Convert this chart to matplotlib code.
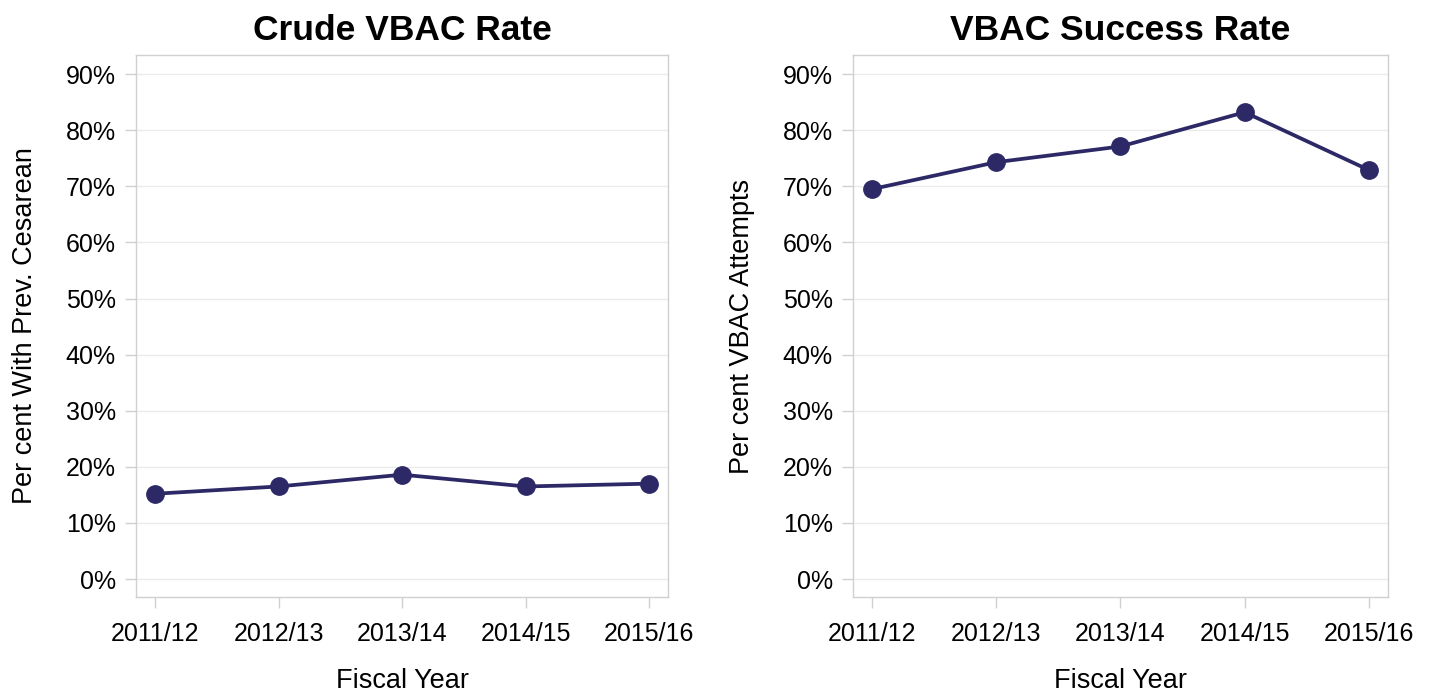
import matplotlib
matplotlib.use("Agg")
import matplotlib.pyplot as plt
from matplotlib.ticker import PercentFormatter

plt.rcParams["font.family"] = ["Liberation Sans", "DejaVu Sans"]

years = ["2011/12", "2012/13", "2013/14", "2014/15", "2015/16"]
crude_rate = [15.2, 16.5, 18.6, 16.5, 17.0]
success_rate = [69.5, 74.3, 77.1, 83.2, 72.9]

LINE = "#2c2966"
FRAME = "#d0d0d0"

fig = plt.figure(figsize=(14.29, 6.92), dpi=100)
ax_left = fig.add_axes([0.0952, 0.1373, 0.3723, 0.7832])
ax_right = fig.add_axes([0.5969, 0.1373, 0.3744, 0.7832])

panels = [
    (ax_left, crude_rate, "Crude VBAC Rate", "Per cent With Prev. Cesarean"),
    (ax_right, success_rate, "VBAC Success Rate", "Per cent VBAC Attempts"),
]

for ax, vals, title, ylabel in panels:
    x = list(range(len(years)))
    ax.plot(x, vals, color=LINE, lw=2.7, marker="o", ms=12.5, zorder=3)
    ax.set_xlim(-0.154, 4.154)
    ax.set_ylim(-3.2, 93.4)
    ax.set_yticks(range(0, 91, 10))
    ax.yaxis.set_major_formatter(PercentFormatter(decimals=0))
    ax.set_xticks(x)
    ax.set_xticklabels(years)
    ax.grid(axis="y", color="#ebebeb", lw=1.0)
    ax.set_axisbelow(True)
    for s in ax.spines.values():
        s.set_color(FRAME)
        s.set_linewidth(1.0)
    ax.tick_params(axis="both", colors=FRAME, labelcolor="black",
                   labelsize=18, length=8, width=1.0, pad=6.5)
    ax.tick_params(axis="x", pad=10)
    ax.set_title(title, fontsize=25.5, fontweight="bold", pad=11)
    ax.set_xlabel("Fiscal Year", fontsize=19.5, labelpad=16)
    ax.set_ylabel(ylabel, fontsize=19.5, labelpad=20)

fig.savefig("out.png", dpi=100)
